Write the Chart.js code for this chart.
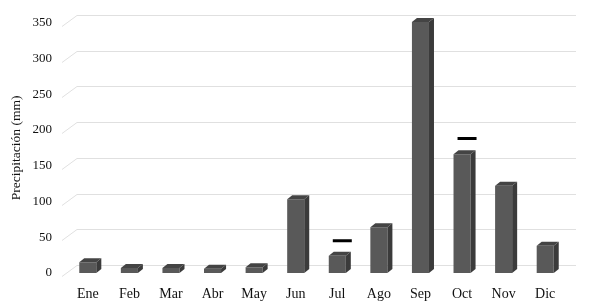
<!DOCTYPE html>
<html>
<head>
<meta charset="utf-8">
<script src="https://cdn.jsdelivr.net/npm/chart.js@4"></script>
<style>
  body { margin: 0; background: #fff; }
</style>
</head>
<body>
<canvas id="rainChart" width="590" height="306"></canvas>
<script>
const months = ['Ene', 'Feb', 'Mar', 'Abr', 'May', 'Jun', 'Jul', 'Ago', 'Sep', 'Oct', 'Nov', 'Dic'];
const precipitation = [15, 7, 7, 6, 8, 103, 24, 64, 351, 166, 122, 38];
const marks = [null, null, null, null, null, null, 45, null, null, 188, null, null];
const yTicks = [0, 50, 100, 150, 200, 250, 300, 350];

// fake 3d look: back wall gridlines, bar top and side faces
const depth = {
  id: 'depth',
  beforeDatasetsDraw(chart) {
    const ctx = chart.ctx;
    const y = chart.scales.y;
    ctx.save();
    ctx.strokeStyle = '#e0e0e0';
    ctx.lineWidth = 1;
    yTicks.forEach(v => {
      const py = Math.round(y.getPixelForValue(v)) + 0.5;
      ctx.beginPath();
      ctx.moveTo(62, py + 3);
      ctx.lineTo(77, py - 8);
      ctx.lineTo(576, py - 8);
      ctx.stroke();
    });
    ctx.restore();
  },
  beforeDatasetDraw(chart, args) {
    if (args.index === 1) {
      chart.ctx.save();
      chart.ctx.translate(5, 0);
    }
  },
  afterDatasetDraw(chart, args) {
    const ctx = chart.ctx;
    if (args.index === 1) {
      ctx.restore();
      return;
    }
    const dx = 5, dy = 4;
    args.meta.data.forEach(bar => {
      const left = bar.x - bar.width / 2;
      const right = bar.x + bar.width / 2;
      ctx.fillStyle = '#3b3b3b';
      ctx.beginPath();
      ctx.moveTo(right, bar.y);
      ctx.lineTo(right + dx, bar.y - dy);
      ctx.lineTo(right + dx, bar.base - dy);
      ctx.lineTo(right, bar.base);
      ctx.closePath();
      ctx.fill();
      ctx.fillStyle = '#444444';
      ctx.beginPath();
      ctx.moveTo(left, bar.y);
      ctx.lineTo(left + dx, bar.y - dy);
      ctx.lineTo(right + dx, bar.y - dy);
      ctx.lineTo(right, bar.y);
      ctx.closePath();
      ctx.fill();
    });
  }
};

const serif = 'Liberation Serif';

const rainData = {
  labels: months,
  datasets: [{
    type: 'bar',
    data: precipitation,
    backgroundColor: '#595959',
    borderWidth: 0,
    categoryPercentage: 1,
    barPercentage: 0.41,
    clip: false
  }, {
    type: 'line',
    data: marks,
    showLine: false,
    pointStyle: 'line',
    pointRadius: 9.5,
    pointBorderWidth: 3,
    pointBorderColor: '#000',
    borderColor: '#000'
  }]
};

const rainOptions = {
  responsive: false,
  animation: false,
  layout: { padding: { top: 21, right: 24, left: 0, bottom: 0 } },
  scales: {
    x: {
      grid: { display: false, drawTicks: false },
      border: { display: false },
      ticks: { color: '#111', font: { family: serif, size: 14 }, padding: 13 },
      afterFit(scale) { scale.height = 33; }
    },
    y: {
      min: 0,
      max: 350,
      afterBuildTicks(scale) { scale.ticks = yTicks.map(v => ({ value: v })); },
      grid: { display: false, drawTicks: false },
      border: { display: false },
      ticks: { color: '#111', font: { family: serif, size: 13 }, padding: 15 },
      title: {
        display: true,
        text: 'Precipitación (mm)',
        color: '#111',
        font: { family: serif, size: 13.5 },
        padding: { top: 8, bottom: 0 }
      },
      afterFit(scale) { scale.width = 67; }
    }
  },
  plugins: {
    legend: { display: false },
    tooltip: { enabled: false }
  }
};

const rainChart = new Chart(document.getElementById('rainChart'), {
  data: rainData,
  options: rainOptions,
  plugins: [depth]
});
</script>
</body>
</html>
